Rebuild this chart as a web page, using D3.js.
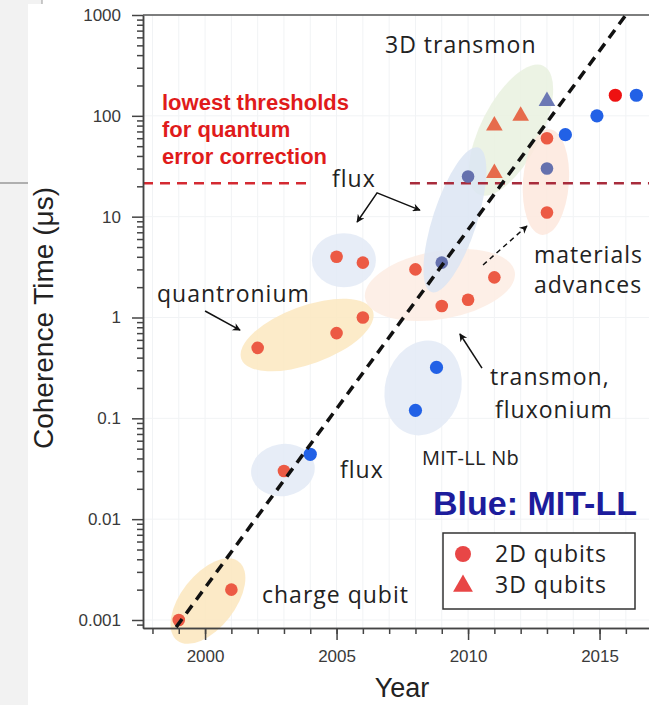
<!DOCTYPE html>
<html>
<head>
<meta charset="utf-8">
<script src="https://cdn.jsdelivr.net/npm/d3@7"></script>
<style>
body { margin: 0; background: #fff; }
svg { display: block; }
.tick text { font-family: "Liberation Sans", Arial, sans-serif; font-size: 17px; fill: #3a3a3a; }
.axis path, .axis line { stroke: #444; stroke-width: 1.5; }
.note { font-family: "Open Sans", sans-serif; font-size: 23px; fill: #222; letter-spacing: 1px; }
</style>
</head>
<body>
<script>
/* coherence time data (years, microseconds) */
var red2dYears = [1999, 2001, 2002, 2003, 2005, 2005, 2006, 2006, 2008, 2009, 2010, 2011, 2013, 2013];
var red2dT     = [0.001, 0.002, 0.5, 0.03, 0.7, 4.0, 1.0, 3.5, 3.0, 1.3, 1.5, 2.5, 11, 60];
var red3dYears = [2011, 2011, 2012];
var red3dT     = [27, 80, 100];
var mitOldYears = [2009, 2010, 2013];   // MIT-LL 2D, greyish blue
var mitOldT     = [3.5, 25, 30];
var mit3dYears = [2013];
var mit3dT     = [140];
var mitYears = [2004, 2008, 2008.8, 2013.7, 2014.9, 2016.4];   // MIT-LL, bright blue
var mitT     = [0.044, 0.12, 0.32, 65, 100, 160];
var newYears = [2015.6];
var newT     = [160];

var threshold = 21.5;                 // lowest threshold for error correction
var trendYears = [1998.9, 2016];
var trendT     = [0.00085, 1000];

var yTicks = [0.001, 0.01, 0.1, 1, 10, 100, 1000];
var xTicks = [2000, 2005, 2010, 2015];

var width = 649;
var height = 705;

var svg = d3.select("body").append("svg")
    .attr("width", width)
    .attr("height", height);

/* grey window frame at the left */
svg.append("rect").attr("x", 0).attr("y", 0).attr("width", 28).attr("height", height).attr("fill", "#f2f2f2");
svg.append("rect").attr("x", 28).attr("y", 0).attr("width", 14).attr("height", 4).attr("fill", "#f2f2f2");
svg.append("line").attr("x1", 42).attr("y1", 0).attr("x2", 42).attr("y2", 4).attr("stroke", "#999");
svg.append("line").attr("x1", 0).attr("y1", 183).attr("x2", 28).attr("y2", 183).attr("stroke", "#999").attr("stroke-width", 1.5);

var plot = {left: 143, top: 15, right: 649, bottom: 628};

var xScale = d3.scaleLinear()
    .domain([1997.64, 2016.88])
    .range([plot.left, plot.right]);

var yScale = d3.scaleLog()
    .domain([0.000833, 1000])
    .range([plot.bottom, plot.top]);

function pt(d) { return [xScale(d[0]), yScale(d[1])]; }
function zip(xs, ys) { return xs.map(function(x, i) { return [x, ys[i]]; }); }

/* faint grid */
var grid = svg.append("g").attr("stroke", "#f1f3f5").attr("stroke-width", 1);
d3.range(1998, 2017).forEach(function(yr) {
    grid.append("line").attr("x1", xScale(yr)).attr("x2", xScale(yr))
        .attr("y1", plot.top).attr("y2", plot.bottom);
});
yTicks.forEach(function(v) {
    grid.append("line").attr("x1", plot.left).attr("x2", plot.right)
        .attr("y1", yScale(v)).attr("y2", yScale(v));
});

/* shaded groups (centre in data units, radii in px) */
var groups = [
    {year: 2000.11, t: 0.00154, rx: 50, ry: 27, rot: -52, fill: "#fbe6bd"},
    {year: 2002.96, t: 0.0307,  rx: 32, ry: 26, rot: -10, fill: "#e3eaf6"},
    {year: 2003.88, t: 0.67,    rx: 70, ry: 29, rot: -20, fill: "#fbe7c0"},
    {year: 2005.28, t: 3.7,     rx: 32, ry: 27, rot: 0,   fill: "#e3eaf6"},
    {year: 2008.93, t: 2.1,     rx: 76, ry: 34, rot: -10, fill: "#fdece3"},
    {year: 2011.63, t: 72,      rx: 72, ry: 30, rot: -63, fill: "#e9f1df"},
    {year: 2009.5,  t: 9.3,     rx: 76, ry: 22, rot: -72, fill: "#dce5f3"},
    {year: 2012.96, t: 22,      rx: 53, ry: 23, rot: -86, fill: "#fde7dd"},
    {year: 2008.29, t: 0.2,     rx: 48, ry: 38, rot: -75, fill: "#e3eaf6"}
];
svg.append("g").selectAll("ellipse")
    .data(groups)
    .enter()
    .append("ellipse")
    .attr("transform", function(d) {
        return "translate(" + xScale(d.year) + "," + yScale(d.t) + ") rotate(" + d.rot + ")";
    })
    .attr("rx", function(d) { return d.rx; })
    .attr("ry", function(d) { return d.ry; })
    .attr("fill", function(d) { return d.fill; })
    .attr("opacity", 0.85);

/* threshold line, broken around the "flux" label */
var thrColors = ["#d42a32", "#a82c3c"];
[[1997.64, 2003.88], [2007.79, 2016.88]].forEach(function(seg, i) {
    svg.append("line")
        .attr("x1", xScale(seg[0])).attr("x2", xScale(seg[1]))
        .attr("y1", yScale(threshold)).attr("y2", yScale(threshold))
        .attr("stroke", thrColors[i])
        .attr("stroke-width", 2.5)
        .attr("stroke-dasharray", "10,7");
});

/* axes */
var yAxis = d3.axisLeft(yScale).tickValues(yTicks).tickSize(11).tickSizeOuter(0).tickPadding(11)
    .tickFormat(function(d) { return String(d); });
svg.append("g").attr("class", "axis").attr("transform", "translate(" + plot.left + ",0)").call(yAxis);

var minorY = [];
for (var e = -4; e < 3; e++) {
    for (var m = 2; m < 10; m++) {
        var v = m * Math.pow(10, e);
        if (v > 0.000833 && v < 1000) minorY.push(v);
    }
}
svg.append("g").attr("class", "axis").attr("transform", "translate(" + plot.left + ",0)")
    .call(d3.axisLeft(yScale).tickValues(minorY).tickSize(6).tickSizeOuter(0).tickFormat(""));

var xAxis = d3.axisBottom(xScale).tickValues(xTicks).tickSize(12).tickSizeOuter(0).tickPadding(10)
    .tickFormat(d3.format("d"));
svg.append("g").attr("class", "axis").attr("transform", "translate(0," + plot.bottom + ")").call(xAxis);
svg.append("g").attr("class", "axis").attr("transform", "translate(0," + plot.bottom + ")")
    .call(d3.axisBottom(xScale).tickValues(d3.range(1998, 2017)).tickSize(6).tickSizeOuter(0).tickFormat(""));

svg.append("line").attr("x1", plot.left).attr("x2", plot.right)
    .attr("y1", plot.top).attr("y2", plot.top)
    .attr("stroke", "#555").attr("stroke-width", 1.5);

/* axis titles */
svg.append("text")
    .attr("transform", "translate(53,318) rotate(-90)")
    .attr("text-anchor", "middle")
    .style("font-family", "'Liberation Sans', Arial, sans-serif")
    .style("font-size", "28px")
    .attr("fill", "#222")
    .text("Coherence Time (\u03bcs)");
svg.append("text")
    .attr("x", 402).attr("y", 697)
    .attr("text-anchor", "middle")
    .style("font-family", "'Liberation Sans', Arial, sans-serif")
    .style("font-size", "27px")
    .attr("fill", "#222")
    .text("Year");

/* markers */
function circles(data, color, r) {
    svg.append("g").selectAll("circle")
        .data(data)
        .enter()
        .append("circle")
        .attr("cx", function(d) { return xScale(d[0]); })
        .attr("cy", function(d) { return yScale(d[1]); })
        .attr("r", r)
        .attr("fill", color);
}
function triangles(data, color) {
    svg.append("g").selectAll("path")
        .data(data)
        .enter()
        .append("path")
        .attr("d", d3.symbol().type(d3.symbolTriangle).size(120))
        .attr("transform", function(d) { return "translate(" + xScale(d[0]) + "," + yScale(d[1]) + ")"; })
        .attr("fill", color);
}
circles(zip(red2dYears, red2dT), "#ec5a44", 6.3);
circles(zip(mitOldYears, mitOldT), "#6571ae", 6.3);
circles(zip(mitYears, mitT), "#2261e6", 6.6);
circles(zip(newYears, newT), "#ee1111", 6.6);
triangles(zip(red3dYears, red3dT), "#e66b4c");
triangles(zip(mit3dYears, mit3dT), "#6b78b4");

/* trend line */
svg.append("path")
    .datum(zip(trendYears, trendT))
    .attr("d", d3.line().x(function(d) { return xScale(d[0]); }).y(function(d) { return yScale(d[1]); }))
    .attr("stroke", "#111")
    .attr("stroke-width", 3.5)
    .attr("stroke-dasharray", "10,7")
    .attr("fill", "none");

/* arrows */
svg.append("defs").append("marker")
    .attr("id", "head")
    .attr("viewBox", "0 0 10 10")
    .attr("refX", 9).attr("refY", 5)
    .attr("markerWidth", 10).attr("markerHeight", 8)
    .attr("markerUnits", "userSpaceOnUse")
    .attr("orient", "auto-start-reverse")
    .append("path").attr("d", "M0,0 L10,5 L0,10 L3,5 Z").attr("fill", "#111");

var arrows = [
    {pts: [[2000.0, 1.16], [2001.33, 0.75]], dash: null, start: false},
    {pts: [[2005.78, 8.85], [2006.54, 17.2], [2008.17, 11.6]], dash: null, start: true},
    {pts: [[2010.53, 0.315], [2009.69, 0.686]], dash: null, start: false},
    {pts: [[2010.57, 3.32], [2012.24, 8.08]], dash: "5,4", start: false}
];
arrows.forEach(function(a) {
    var p = svg.append("path")
        .attr("d", d3.line()(a.pts.map(pt)))
        .attr("fill", "none")
        .attr("stroke", "#111")
        .attr("stroke-width", 1.5)
        .attr("marker-end", "url(#head)");
    if (a.start) p.attr("marker-start", "url(#head)");
    if (a.dash) p.attr("stroke-dasharray", a.dash);
});

/* annotations */
var notes = [
    {x: 385, y: 53,  text: "3D transmon"},
    {x: 332, y: 187, text: "flux"},
    {x: 157, y: 302, text: "quantronium"},
    {x: 534, y: 263, text: "materials"},
    {x: 534, y: 293, text: "advances"},
    {x: 490, y: 385, text: "transmon,"},
    {x: 495, y: 418, text: "fluxonium"},
    {x: 340, y: 478, text: "flux"},
    {x: 262, y: 603, text: "charge qubit"}
];
svg.append("g").selectAll("text")
    .data(notes)
    .enter()
    .append("text")
    .attr("class", "note")
    .attr("x", function(d) { return d.x; })
    .attr("y", function(d) { return d.y; })
    .text(function(d) { return d.text; });

svg.append("text")
    .attr("class", "note")
    .attr("x", 422).attr("y", 465)
    .style("font-size", "20px")
    .style("letter-spacing", "0.3px")
    .text("MIT-LL Nb");

var redLines = ["lowest thresholds", "for quantum", "error correction"];
svg.append("g").selectAll("text")
    .data(redLines)
    .enter()
    .append("text")
    .attr("x", 162)
    .attr("y", function(d, i) { return 110 + i * 27; })
    .style("font-family", "'Liberation Sans', Arial, sans-serif")
    .style("font-weight", "bold")
    .style("font-size", "22px")
    .attr("fill", "#e01b1b")
    .text(function(d) { return d; });

svg.append("text")
    .attr("x", 433).attr("y", 515)
    .style("font-family", "'Liberation Sans', Arial, sans-serif")
    .style("font-weight", "bold")
    .style("font-size", "34px")
    .attr("fill", "#1c1c9c")
    .text("Blue: MIT-LL");

/* legend */
var legend = svg.append("g").attr("transform", "translate(443,533)");
legend.append("rect")
    .attr("width", 192).attr("height", 76)
    .attr("fill", "#fff").attr("stroke", "#333").attr("stroke-width", 1.5);
legend.append("circle").attr("cx", 20).attr("cy", 21).attr("r", 8).attr("fill", "#e84646");
legend.append("path")
    .attr("d", d3.symbol().type(d3.symbolTriangle).size(170))
    .attr("transform", "translate(20,53)")
    .attr("fill", "#e84646");
legend.append("text").attr("class", "note").attr("x", 52).attr("y", 29).text("2D qubits");
legend.append("text").attr("class", "note").attr("x", 52).attr("y", 60).text("3D qubits");
</script>
</body>
</html>
